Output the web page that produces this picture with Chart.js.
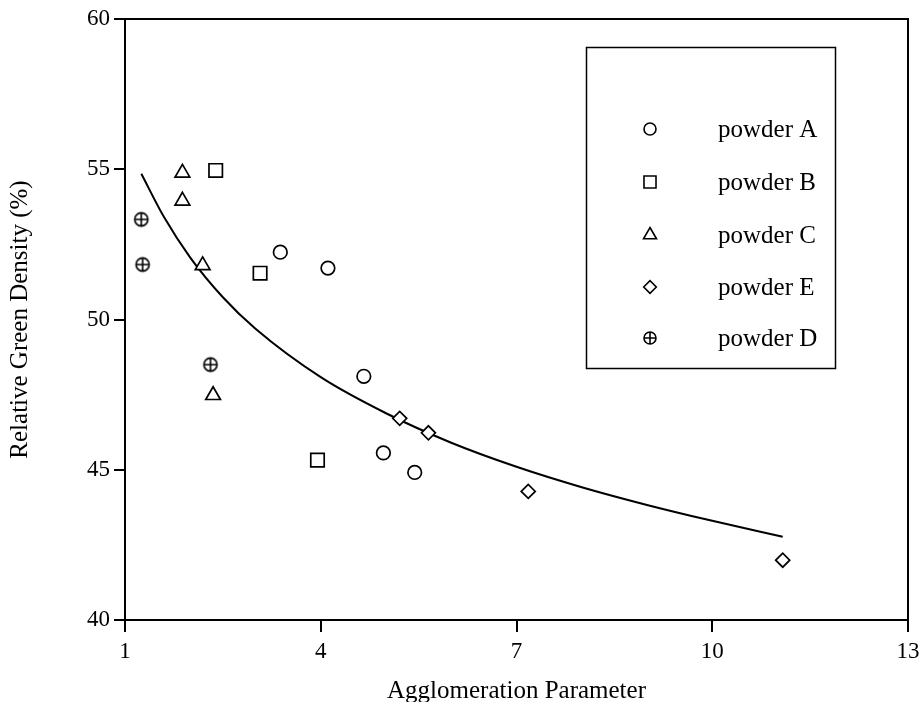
<!DOCTYPE html>
<html>
<head>
<meta charset="utf-8">
<script src="https://cdn.jsdelivr.net/npm/chart.js@4.4.1/dist/chart.umd.min.js"></script>
<style>
  html, body { margin: 0; padding: 0; background: #fff; }
  #wrap { width: 924px; height: 702px; position: relative; }
</style>
</head>
<body>
<div id="wrap"><canvas id="chart"></canvas></div>
<script>
// values
const powderAx = [3.38, 4.11, 4.66, 4.96, 5.44];
const powderAy = [52.24, 51.71, 48.11, 45.56, 44.91];
const powderBx = [2.39, 3.07, 3.95];
const powderBy = [54.96, 51.54, 45.32];
const powderCx = [1.88, 1.88, 2.19, 2.35];
const powderCy = [54.88, 53.95, 51.80, 47.48];
const powderEx = [5.21, 5.65, 7.18, 11.08];
const powderEy = [46.71, 46.23, 44.28, 41.99];
const powderDx = [1.25, 1.27, 2.31];
const powderDy = [53.33, 51.83, 48.50];

// fitted curve
const curveX = [1.25, 1.6, 2.0, 2.5, 3.0, 4.0, 5.0, 6.0, 7.0, 8.0, 9.0, 10.0, 11.08];
const curveY = [54.85, 53.40, 52.06, 50.74, 49.69, 48.08, 46.88, 45.90, 45.10, 44.42, 43.83, 43.30, 42.77];

const xTicks = [1, 4, 7, 10, 13];
const yTicks = [40, 45, 50, 55, 60];

const FONT = "'Liberation Serif', 'Times New Roman', serif";

function toPoints(xs, ys) {
    return xs.map((x, i) => ({x: x, y: ys[i]}));
}

// circle with a plus inside (powder D)
function crossCircle(r) {
    const c = document.createElement('canvas');
    const s = Math.ceil(r * 2 + 4);
    c.width = s;
    c.height = s;
    const m = s / 2;
    const g = c.getContext('2d');
    g.strokeStyle = '#000';
    g.lineWidth = 1.6;
    g.beginPath();
    g.arc(m, m, r, 0, Math.PI * 2);
    g.moveTo(m - r, m); g.lineTo(m + r, m);
    g.moveTo(m, m - r); g.lineTo(m, m + r);
    g.stroke();
    return c;
}

function markerSet(label, xs, ys, style, radius) {
    return {
        label: label,
        data: toPoints(xs, ys),
        pointStyle: style,
        pointRadius: radius,
        pointHoverRadius: radius,
        pointBorderColor: '#000',
        pointBackgroundColor: '#fff',
        pointBorderWidth: 1.7,
        showLine: false
    };
}

const datasets = [
    {
        label: 'fit',
        data: toPoints(curveX, curveY),
        showLine: true,
        borderColor: '#000',
        borderWidth: 2,
        pointRadius: 0,
        cubicInterpolationMode: 'monotone',
        fill: false,
        order: 10
    },
    markerSet('powder A', powderAx, powderAy, 'circle', 6.8),
    markerSet('powder B', powderBx, powderBy, 'rect', 9.5),
    markerSet('powder C', powderCx, powderCy, 'triangle', 8.5),
    markerSet('powder E', powderEx, powderEy, 'rectRot', 7),
    markerSet('powder D', powderDx, powderDy, crossCircle(6.6), 7)
];

const legendMarks = ['circle', 'rect', 'triangle', 'rectRot', crossCircle(6)];
const legendSizes = [6, 8.5, 7.5, 6.3, 6];

// frame on top/right + legend box inside the plot
const framePlugin = {
    id: 'frame',
    afterDraw(chart) {
        const ctx = chart.ctx;
        const a = chart.chartArea;
        ctx.save();
        ctx.strokeStyle = '#000';
        ctx.lineWidth = 2;
        ctx.beginPath();
        ctx.moveTo(a.left, a.top);
        ctx.lineTo(a.right, a.top);
        ctx.lineTo(a.right, a.bottom);
        ctx.stroke();

        // legend
        ctx.lineWidth = 1.5;
        ctx.strokeRect(586.5, 47.5, 249, 321);
        const rows = [129, 182, 235, 287, 338];
        ctx.font = '25px ' + FONT;
        ctx.fillStyle = '#000';
        ctx.textBaseline = 'middle';
        ctx.textAlign = 'left';
        chart.data.datasets.slice(1).forEach((ds, i) => {
            ctx.save();
            ctx.strokeStyle = '#000';
            ctx.fillStyle = '#fff';
            ctx.lineWidth = 1.6;
            Chart.helpers.drawPoint(ctx, {
                pointStyle: legendMarks[i],
                radius: legendSizes[i],
                rotation: 0,
                borderWidth: 1.6
            }, 650, rows[i]);
            ctx.restore();
            ctx.fillText(ds.label, 718, rows[i] + 1);
        });
        ctx.restore();
    }
};

new Chart(document.getElementById('chart'), {
    type: 'scatter',
    data: { datasets: datasets },
    plugins: [framePlugin],
    options: {
        responsive: true,
        maintainAspectRatio: false,
        animation: false,
        layout: { padding: { top: 19, right: 16, bottom: 0, left: 0 } },
        plugins: {
            legend: { display: false },
            tooltip: { enabled: false }
        },
        scales: {
            x: {
                type: 'linear',
                min: 1,
                max: 13,
                afterBuildTicks: (s) => { s.ticks = xTicks.map(v => ({value: v})); },
                afterFit: (s) => { s.height = 82; s.paddingRight = 0; s.paddingLeft = 0; },
                grid: { drawOnChartArea: false, drawTicks: true, tickLength: 12, color: '#000', lineWidth: 2 },
                border: { display: true, color: '#000', width: 2 },
                ticks: { color: '#000', font: { family: FONT, size: 23 }, padding: 6 },
                title: { display: true, text: 'Agglomeration Parameter', color: '#000',
                         font: { family: FONT, size: 25 }, padding: { top: 4, bottom: -4 } }
            },
            y: {
                type: 'linear',
                min: 40,
                max: 60,
                afterBuildTicks: (s) => { s.ticks = yTicks.map(v => ({value: v})); },
                afterFit: (s) => { s.width = 125; },
                grid: { drawOnChartArea: false, drawTicks: true, tickLength: 11, color: '#000', lineWidth: 2 },
                border: { display: true, color: '#000', width: 2 },
                ticks: { color: '#000', font: { family: FONT, size: 23 }, padding: 4 },
                title: { display: true, text: 'Relative Green Density (%)', color: '#000',
                         font: { family: FONT, size: 25 }, padding: { top: 5, bottom: 0 } }
            }
        }
    }
});
</script>
</body>
</html>
